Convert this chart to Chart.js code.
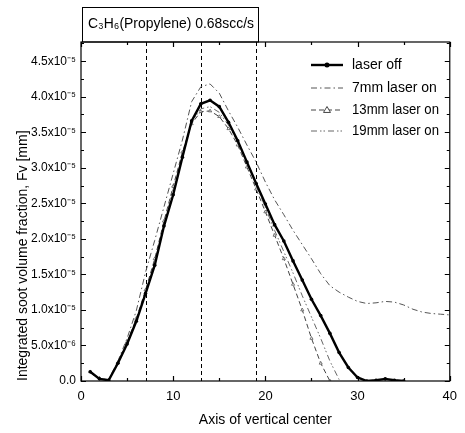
<!DOCTYPE html>
<html>
<head>
<meta charset="utf-8">
<script src="https://cdn.jsdelivr.net/npm/chart.js@4.4.1/dist/chart.umd.min.js"></script>
<style>
  body { margin: 0; background: #fff; }
  canvas { display: block; }
</style>
</head>
<body>
<canvas id="fvChart" width="465" height="433"></canvas>
<script>
// data (values in units of 1e-5)
const xPos = [1,2,3,4,5,6,7,8,9,10,11,12,13,14,15,16,17,18,19,20,21,22,23,24,25,26,27,28,29,30,31,32,33,34,35,36,37,38,39,40];
const laserOff = [0.13,0.03,0.01,0.25,0.52,0.84,1.23,1.63,2.18,2.62,3.15,3.66,3.90,3.95,3.86,3.64,3.38,3.08,2.78,2.49,2.20,1.97,1.69,1.42,1.15,0.92,0.67,0.40,0.19,0.05,0.0,0.01,0.03,0.01,0.0];
const laser7mm = [0.12,0.03,0.02,0.28,0.60,0.99,1.53,1.98,2.45,2.92,3.39,3.93,4.14,4.18,4.05,3.80,3.57,3.32,3.08,2.80,2.55,2.34,2.12,1.92,1.72,1.51,1.34,1.25,1.18,1.12,1.09,1.10,1.12,1.11,1.07,1.01,0.97,0.95,0.94,0.93];
const laser13mm = [0.13,0.04,0.01,0.26,0.55,0.88,1.28,1.72,2.25,2.74,3.22,3.62,3.79,3.80,3.72,3.55,3.32,3.01,2.70,2.38,2.05,1.72,1.36,1.00,0.60,0.25,0.0];
const laser19mm = [0.12,0.03,0.01,0.25,0.54,0.86,1.26,1.68,2.20,2.70,3.18,3.64,3.83,3.86,3.78,3.60,3.36,3.06,2.76,2.44,2.12,1.82,1.52,1.20,0.90,0.60,0.28,0.02];
const seriesNames = ['laser off', '7mm laser on', '13mm laser on', '19mm laser on'];
const laserPositions = [7, 13, 19];

const xTicks = [0, 10, 20, 30, 40];
const xMinorTicks = [5, 15, 25, 35];
const yTicks = [0, 0.5, 1.0, 1.5, 2.0, 2.5, 3.0, 3.5, 4.0, 4.5];
const yTickLabels = ['0.0', '5.0x10⁻⁶', '1.0x10⁻⁵', '1.5x10⁻⁵', '2.0x10⁻⁵', '2.5x10⁻⁵', '3.0x10⁻⁵', '3.5x10⁻⁵', '4.0x10⁻⁵', '4.5x10⁻⁵'];
const yMinorTicks = [0.25, 0.75, 1.25, 1.75, 2.25, 2.75, 3.25, 3.75, 4.25, 4.75];
const titleText = 'C₃H₆(Propylene) 0.68scc/s';

const toPoints = vals => vals.map((v, i) => ({ x: xPos[i], y: v }));
const FONT = 'Arial, "Liberation Sans", sans-serif';

// frame, inward ticks on all four sides, dashed laser lines
const framePlugin = {
  id: 'frame',
  beforeDatasetsDraw(chart) {
    const { ctx, chartArea: a, scales: { x } } = chart;
    ctx.save();
    ctx.strokeStyle = '#000';
    ctx.lineWidth = 1;
    ctx.setLineDash([4, 3]);
    laserPositions.forEach(p => {
      const px = Math.round(x.getPixelForValue(p)) + 0.5;
      ctx.beginPath();
      ctx.moveTo(px, a.top);
      ctx.lineTo(px, a.bottom);
      ctx.stroke();
    });
    ctx.restore();
  },
  afterDraw(chart) {
    const { ctx, chartArea: a, scales: { x, y } } = chart;
    ctx.save();
    ctx.strokeStyle = '#000';
    ctx.lineWidth = 1.2;
    ctx.strokeRect(a.left, a.top, a.right - a.left, a.bottom - a.top);
    const xt = (vals, len) => vals.forEach(v => {
      const px = Math.round(x.getPixelForValue(v)) + 0.5;
      ctx.beginPath();
      ctx.moveTo(px, a.bottom); ctx.lineTo(px, a.bottom - len);
      ctx.moveTo(px, a.top); ctx.lineTo(px, a.top + len);
      ctx.stroke();
    });
    const yt = (vals, len) => vals.forEach(v => {
      const py = Math.round(y.getPixelForValue(v)) + 0.5;
      ctx.beginPath();
      ctx.moveTo(a.left, py); ctx.lineTo(a.left + len, py);
      ctx.moveTo(a.right, py); ctx.lineTo(a.right - len, py);
      ctx.stroke();
    });
    xt(xTicks, 5); xt(xMinorTicks, 3);
    yt(yTicks, 5); yt(yMinorTicks, 3);

    // title box
    ctx.lineWidth = 1;
    ctx.strokeRect(82.5, 7.5, 176, a.top - 7.5);
    ctx.fillStyle = '#000';
    ctx.font = '15px ' + FONT;
    ctx.textBaseline = 'middle';
    ctx.textAlign = 'left';
    ctx.fillText(titleText, 88, 24, 166);

    // legend inside plot
    const rows = [65, 88, 110, 131];
    ctx.font = '14px ' + FONT;
    chart.data.datasets.forEach((ds, i) => {
      const yy = rows[i];
      ctx.save();
      ctx.strokeStyle = ds.borderColor;
      ctx.lineWidth = ds.borderWidth;
      ctx.setLineDash(ds.borderDash || []);
      ctx.beginPath();
      ctx.moveTo(311, yy); ctx.lineTo(343, yy);
      ctx.stroke();
      ctx.setLineDash([]);
      if (ds.pointRadius > 0) {
        ctx.fillStyle = ds.pointBackgroundColor;
        ctx.lineWidth = 1;
        ctx.beginPath();
        if (ds.pointStyle === 'triangle') {
          const r = 3.5;
          ctx.moveTo(327, yy - r); ctx.lineTo(327 + r, yy + r * 0.7); ctx.lineTo(327 - r, yy + r * 0.7);
          ctx.closePath();
          ctx.fill(); ctx.stroke();
        } else {
          ctx.arc(327, yy, 2.5, 0, Math.PI * 2);
          ctx.fill();
        }
      }
      ctx.restore();
      ctx.fillStyle = '#000';
      ctx.fillText(ds.label, 352, yy, 87);
    });
    ctx.restore();
  }
};

const ctx = document.getElementById('fvChart').getContext('2d');
const fvChart = new Chart(ctx, {
  type: 'scatter',
  data: {
    datasets: [
      {
        label: seriesNames[0],
        data: toPoints(laserOff),
        showLine: true,
        borderColor: '#000',
        borderWidth: 2.4,
        pointRadius: 1.8,
        pointBackgroundColor: '#000',
        pointBorderWidth: 0
      },
      {
        label: seriesNames[1],
        data: toPoints(laser7mm),
        showLine: true,
        borderColor: '#555',
        borderWidth: 1,
        borderDash: [6, 3, 1.5, 3],
        pointRadius: 0
      },
      {
        label: seriesNames[2],
        data: toPoints(laser13mm),
        showLine: true,
        borderColor: '#444',
        borderWidth: 1,
        borderDash: [5, 3],
        pointStyle: 'triangle',
        pointRadius: 1.8,
        pointBackgroundColor: '#fff',
        pointBorderColor: '#555',
        pointBorderWidth: 0.8
      },
      {
        label: seriesNames[3],
        data: toPoints(laser19mm),
        showLine: true,
        borderColor: '#666',
        borderWidth: 1,
        borderDash: [6, 3, 1.5, 2, 1.5, 3],
        pointRadius: 0
      }
    ]
  },
  plugins: [framePlugin],
  options: {
    responsive: false,
    animation: false,
    layout: { padding: { top: 42, right: 10, left: 0, bottom: 0 } },
    plugins: {
      legend: { display: false },
      tooltip: { enabled: false }
    },
    scales: {
      x: {
        type: 'linear',
        min: 0,
        max: 40,
        border: { display: false },
        grid: { display: false, drawTicks: false },
        afterBuildTicks: s => { s.ticks = xTicks.map(v => ({ value: v })); },
        afterFit: s => { s.height = 52; },
        ticks: {
          padding: 8,
          color: '#000',
          font: { family: FONT, size: 13 },
          maxRotation: 0
        },
        title: {
          display: true,
          text: 'Axis of vertical center',
          color: '#000',
          font: { family: FONT, size: 14 },
          padding: { top: 0, bottom: 4 }
        }
      },
      y: {
        type: 'linear',
        min: 0,
        max: 4.77,
        border: { display: false },
        grid: { display: false, drawTicks: false },
        afterBuildTicks: s => { s.ticks = yTicks.map(v => ({ value: v })); },
        afterFit: s => { s.width = 81; },
        ticks: {
          padding: 5,
          color: '#000',
          font: { family: FONT, size: 12 },
          callback: (v, i) => yTickLabels[i]
        },
        title: {
          display: true,
          text: 'Integrated soot volume fraction, Fv [mm]',
          align: 'start',
          color: '#000',
          font: { family: FONT, size: 14 },
          padding: { top: 15, bottom: 0 }
        }
      }
    }
  }
});
</script>
</body>
</html>
